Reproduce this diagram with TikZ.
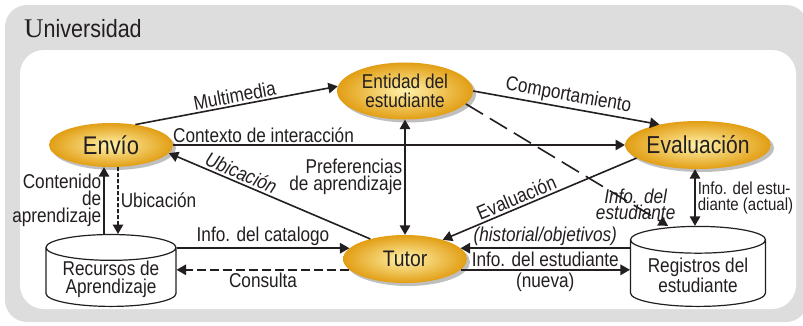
\documentclass[tikz,border=0pt]{standalone}
\usepackage{fontspec}
\setmainfont[FakeStretch=0.86]{Liberation Sans}
\newfontfamily\serifU{Liberation Serif}
\usetikzlibrary{arrows,shapes.geometric,shadows}
\definecolor{oroclaro}{RGB}{255,242,170}
\definecolor{oroscuro}{RGB}{226,158,20}
\definecolor{grisfondo}{RGB}{221,221,221}
\definecolor{tinta}{RGB}{35,31,32}

\begin{document}
\begin{tikzpicture}[x=1pt,y=-1pt]
\tikzstyle{freccia} = [-triangle 60, line width=1.6pt, draw=tinta]
\tikzstyle{doppia} = [triangle 60-triangle 60, line width=1.6pt, draw=tinta]
\tikzstyle{modulo} = [ellipse, inner sep=0pt, shading=radial, inner color=oroclaro, outer color=oroscuro, drop shadow={shadow xshift=3pt, shadow yshift=-3pt, opacity=0.5}, text=tinta, align=center]
\tikzstyle{archivio} = [cylinder, shape border rotate=90, aspect=0.25, inner ysep=0pt, draw=tinta, line width=1.2pt, fill=white, text=tinta, align=center, font=\fontsize{20}{18}\selectfont]
\tikzstyle{etichetta} = [font=\fontsize{20}{17}\selectfont, text=tinta, inner sep=2pt]
\tikzstyle{corsivo} = [font=\fontsize{20}{14}\selectfont\itshape, text=tinta, inner sep=2pt]
\useasboundingbox (0,0) rectangle (803,325);
\fill[grisfondo, rounded corners=22pt] (5,5) rectangle (808,322);
\fill[white, rounded corners=24pt] (20,50) rectangle (796,309);
\node[anchor=base west, inner sep=0pt, text=tinta] (titolo) at (24,37) {{\serifU\fontsize{27}{27}\selectfont U}\fontsize{25}{25}\selectfont niversidad};
% moduli
\node[modulo, minimum width=124pt, minimum height=44pt, font=\fontsize{25.5}{25}\selectfont] (env) at (111,145) {Envío};
\node[modulo, minimum width=136pt, minimum height=57pt, font=\fontsize{20}{19}\selectfont] (ent) at (405,91) {Entidad del\\estudiante};
\node[modulo, minimum width=127pt, minimum height=48pt, font=\fontsize{24.5}{24}\selectfont] (eva) at (698,145) {Evaluación};
\node[modulo, minimum width=124pt, minimum height=48pt, font=\fontsize{22.5}{22}\selectfont] (tut) at (405,259) {Tutor};
% archivi
\node[archivio, minimum width=130pt, minimum height=70pt, anchor=south] (rec) at (111,307) {Recursos de\\Aprendizaje};
\node[archivio, minimum width=135pt, minimum height=80pt, anchor=south] (reg) at (698,307) {Registros del\\estudiante};
% frecce
\draw[freccia] (env.40) -- node[etichetta, midway, above, sloped] {Multimedia} (ent.176);
\draw[freccia] (env.east) -- node[etichetta, pos=0.2, above] {Contexto de interacción} (eva.west);
\draw[freccia] (ent.east) -- node[etichetta, midway, above, sloped] {Comportamiento} (eva.152);
\draw[freccia, dash pattern=on 20pt off 8pt] (ent.-12) -- node[corsivo, pos=0.84, yshift=2pt, align=center] {Info. del\\estudiante} ([xshift=-30pt]reg.north);
\draw[freccia] (tut.150) -- node[corsivo, pos=0.66, above, sloped] {Ubicación} (env.-8);
\draw[doppia] (tut.north) -- node[etichetta, midway, left, align=right] {Preferencias\\de aprendizaje} (ent.south);
\draw[freccia] (eva.192) -- node[etichetta, pos=0.6, above, sloped] {Evaluación} (tut.27);
\draw[freccia] (reg.west |- tut.11) -- node[corsivo, midway, above] {(historial/objetivos)} (tut.11);
\draw[freccia] (tut.-11) -- node[etichetta, midway, above] {Info. del estudiante} node[etichetta, midway, below] {(nueva)} (reg.west |- tut.-11);
\draw[doppia] ([xshift=-3pt]eva.south) -- node[etichetta, midway, right, align=left, font=\fontsize{17.5}{16}\selectfont] {Info. del estu-\\diante (actual)} ([xshift=-3pt]reg.north);
\draw[freccia] (rec.east |- tut.169) -- node[etichetta, midway, above] {Info. del catalogo} (tut.169);
\draw[freccia, dash pattern=on 9pt off 4pt] (tut.191) -- node[etichetta, midway, below] {Consulta} (rec.east |- tut.191);
\draw[freccia] ([xshift=-7pt]rec.north) -- node[etichetta, midway, left, align=right] {Contenido\\de\\aprendizaje} ([xshift=-7pt]env.south);
\draw[freccia, dash pattern=on 4pt off 2pt] ([xshift=7pt]env.south) -- node[etichetta, midway, right] {Ubicación} ([xshift=7pt]rec.north);
\end{tikzpicture}
\end{document}
